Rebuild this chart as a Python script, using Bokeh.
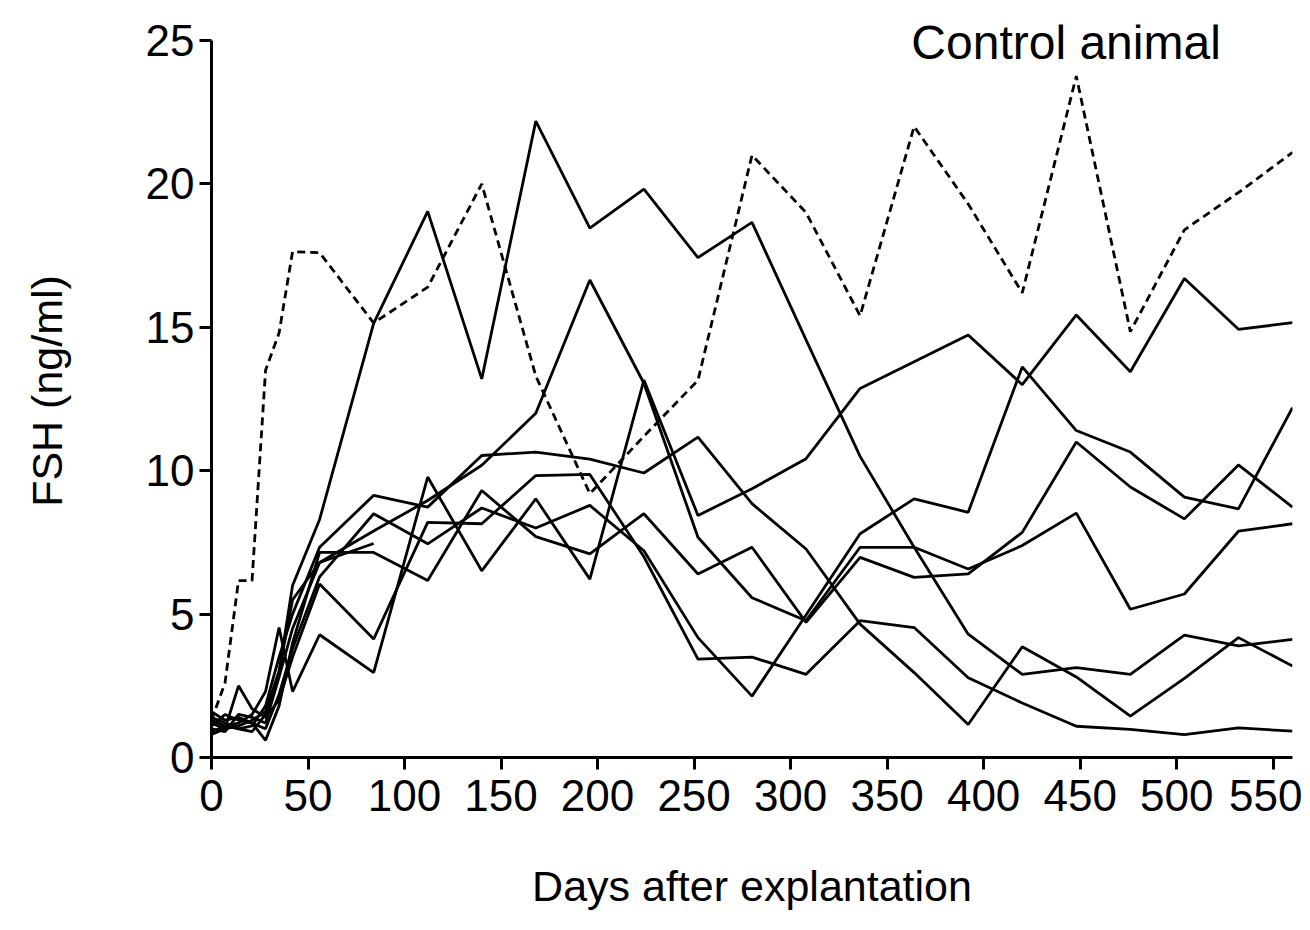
from bokeh.plotting import figure
from bokeh.models import Range1d, Label, FixedTicker
from bokeh.embed import file_html
from bokeh.resources import INLINE

days = [0, 7, 14, 21, 28, 35, 42, 56, 84, 112, 140, 168, 196, 224, 252, 280, 308, 336, 364, 392, 420, 448, 476, 504, 532, 560]

# treated animals (solid lines)
animal_a = [1.2, 1.0, 1.1, 1.3, 1.6, 3.0, 6.0, 8.3, 15.14, 19.04, 13.2, 22.19, 18.46, 19.82, 17.43, 18.66, 14.56, 10.5, 7.33, 4.3, 2.9, 3.13, 2.9, 4.27, 3.89, 4.12]
animal_b = [0.9, 1.1, 1.2, 1.5, 2.3, 4.53, 2.3, 4.28, 2.96, 9.78, 6.51, 9.02, 6.22, 13.16, 8.44, 9.37, 10.42, 12.87, 13.8, 14.73, 13.0, 15.43, 13.45, 16.7, 14.93, 15.16]
animal_c = [1.4, 1.2, 1.0, 1.1, 1.8, 3.5, 5.0, 7.33, 9.14, 8.73, 10.53, 10.65, 10.4, 9.92, 11.17, 8.85, 7.27, 4.65, 2.96, 1.15, 3.86, 2.81, 1.44, 2.76, 4.18, 3.19]
animal_d = [1.0, 0.9, 1.5, 1.4, 1.2, 2.8, 4.5, 6.8, 7.9, 8.96, 10.19, 12.0, 16.65, 13.05, 7.68, 5.57, 4.77, 7.33, 7.33, 6.57, 7.39, 8.52, 5.17, 5.7, 7.89, 8.15]
animal_e = [1.6, 1.3, 1.4, 1.2, 1.0, 2.2, 3.8, 6.3, 8.5, 7.45, 8.7, 8.0, 8.79, 7.21, 4.18, 2.14, 4.97, 7.8, 9.02, 8.55, 13.62, 11.4, 10.65, 9.08, 8.67, 12.2]
animal_f = [1.1, 1.5, 1.3, 1.2, 0.6, 1.8, 4.0, 7.15, 7.15, 6.17, 9.31, 7.7, 7.1, 8.5, 6.4, 7.33, 4.71, 6.98, 6.28, 6.4, 7.85, 11.0, 9.43, 8.32, 10.2, 8.73]
animal_g = [0.8, 1.0, 2.5, 1.7, 1.4, 2.0, 3.5, 6.05, 4.13, 8.2, 8.15, 9.83, 9.87, 7.0, 3.43, 3.5, 2.9, 4.77, 4.53, 2.78, 1.9, 1.09, 0.98, 0.80, 1.03, 0.92]
days_h = [0, 7, 14, 21, 28, 35, 42, 56, 84]
animal_h = [1.3, 1.1, 1.0, 0.9, 1.5, 3.0, 5.5, 6.8, 7.46]

# control animal (dashed line)
control = [1.3, 2.6, 6.17, 6.17, 13.5, 14.8, 17.64, 17.6, 15.15, 16.4, 20.0, 13.3, 9.2, 11.2, 13.15, 21.0, 19.0, 15.4, 22.0, 19.3, 16.2, 23.76, 14.85, 18.4, 19.7, 21.1]

x_ticks = [0, 50, 100, 150, 200, 250, 300, 350, 400, 450, 500, 550]
y_ticks = [0, 5, 10, 15, 20, 25]

FONT = "Liberation Sans"

p = figure(width=1302, height=922, output_backend="svg", toolbar_location=None,
           x_range=Range1d(0, 560), y_range=Range1d(0, 25.558),
           min_border_left=211, min_border_right=10, min_border_top=24, min_border_bottom=165)
p.outline_line_color = None
p.grid.visible = False
p.background_fill_color = "white"
p.border_fill_color = "white"

for series in [animal_a, animal_b, animal_c, animal_d, animal_e, animal_f, animal_g]:
    p.line(days, series, line_color="black", line_width=2.8)
p.line(days_h, animal_h, line_color="black", line_width=2.8)
p.line(days, control, line_color="black", line_width=2.8, line_dash="8 5")

for ax in (p.xaxis[0], p.yaxis[0]):
    ax.axis_line_color = "black"
    ax.axis_line_width = 3
    ax.major_tick_line_color = "black"
    ax.major_tick_line_width = 3
    ax.major_tick_out = 12
    ax.major_tick_in = 0
    ax.minor_tick_line_color = None
    ax.major_label_text_font = FONT
    ax.major_label_text_font_size = "44px"
    ax.major_label_text_color = "black"
    ax.axis_label_text_font = FONT
    ax.axis_label_text_font_size = "43px"
    ax.axis_label_text_font_style = "normal"
    ax.axis_label_text_color = "black"

p.yaxis[0].bounds = (0, 25)
p.xaxis[0].ticker = FixedTicker(ticks=x_ticks)
p.yaxis[0].ticker = FixedTicker(ticks=y_ticks)
p.xaxis[0].axis_label = "Days after explantation"
p.yaxis[0].axis_label = "FSH (ng/ml)"
p.xaxis[0].major_label_standoff = 10
p.xaxis[0].axis_label_standoff = 48
p.yaxis[0].major_label_standoff = 5
p.yaxis[0].axis_label_standoff = 72

p.add_layout(Label(x=442.7, y=24.92, text="Control animal", text_align="center",
                   text_baseline="alphabetic", text_font=FONT, text_font_size="48px",
                   text_color="black"))

open("out.html", "w").write(file_html(p, INLINE))
